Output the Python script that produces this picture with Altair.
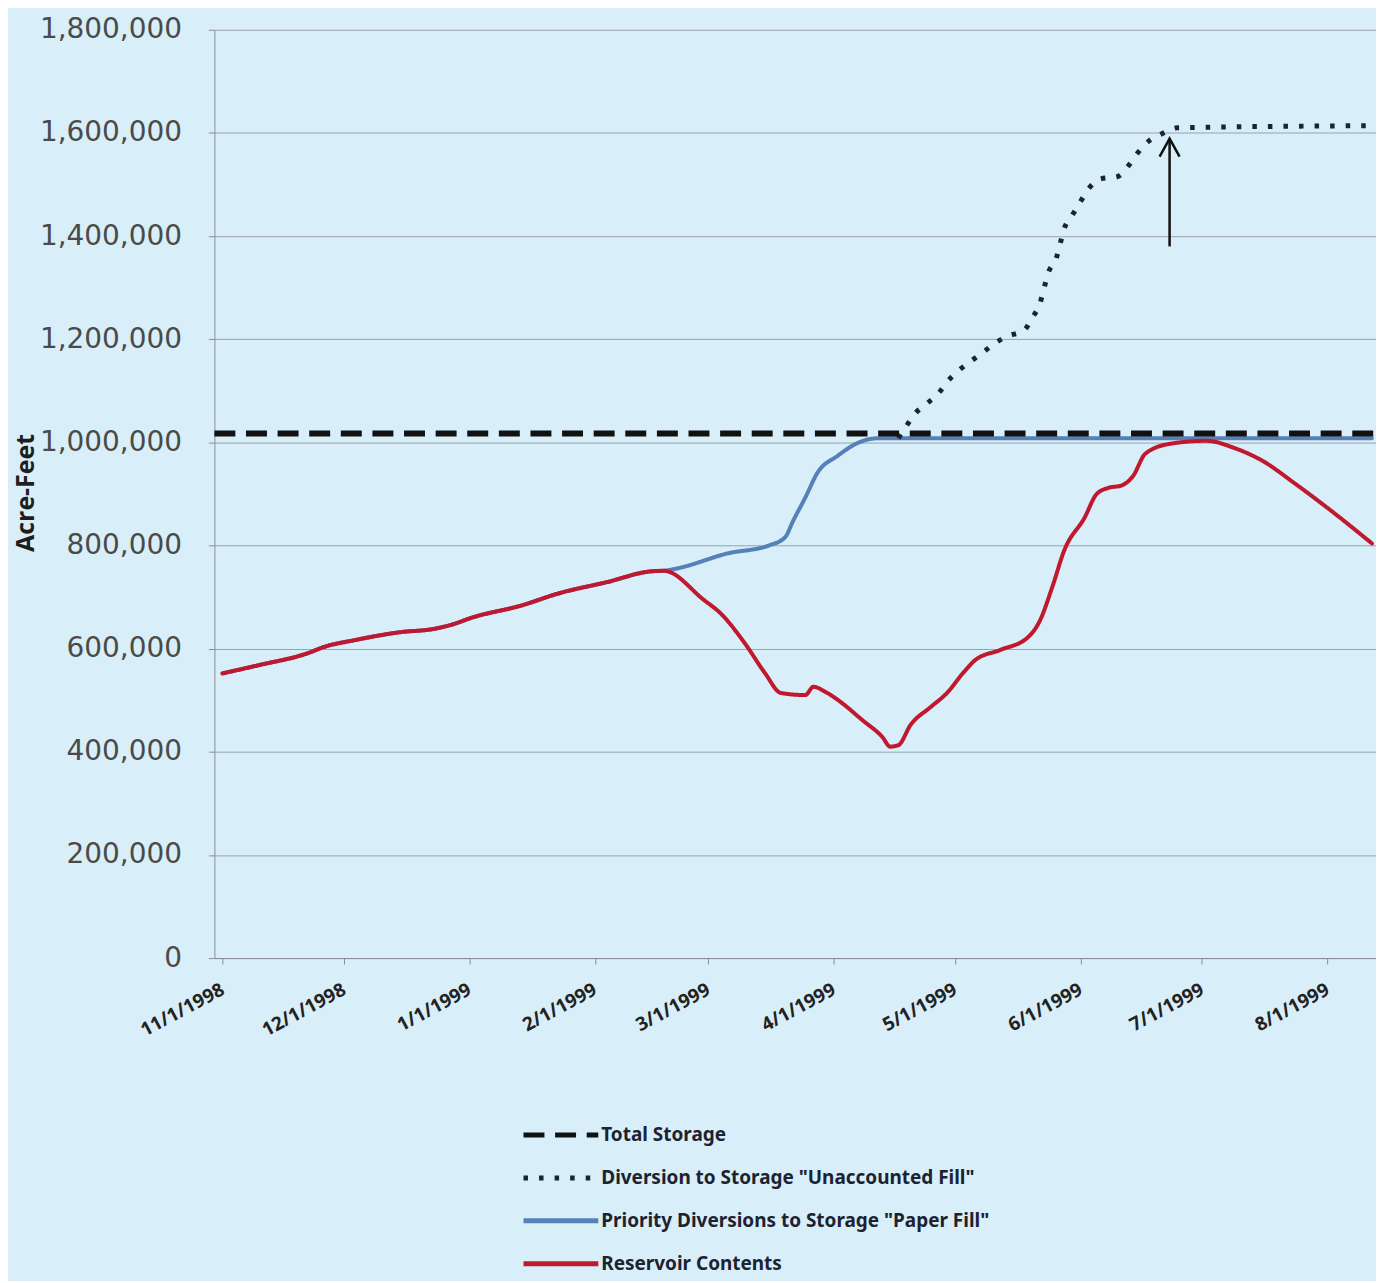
import altair as alt
import pandas as pd

# ---------------- data ----------------
# shared part of "Paper Fill" and "Reservoir Contents" (identical until mid-February)
common_dates = ["11/1/1998", "11/10/1998", "11/22/1998", "11/26/1998", "12/4/1998",
                "12/15/1998", "12/23/1998", "12/27/1998", "1/2/1999", "1/14/1999",
                "1/23/1999", "2/4/1999", "2/15/1999", "2/18/1999"]
common_vals = [552000, 568000, 591000, 603000, 617000,
               632000, 638000, 645000, 661000, 684000,
               707000, 729000, 750000, 751000]

red_dates = ["2/28/1999", "3/4/1999", "3/10/1999", "3/15/1999", "3/19/1999",
             "3/25/1999", "3/27/1999", "3/30/1999", "4/3/1999", "4/8/1999",
             "4/13/1999", "4/15/1999", "4/17/1999", "4/20/1999", "4/25/1999",
             "4/29/1999", "5/3/1999", "5/6/1999", "5/12/1999", "5/19/1999",
             "5/22/1999", "5/25/1999", "5/28/1999", "6/2/1999", "6/5/1999",
             "6/8/1999", "6/11/1999", "6/14/1999", "6/17/1999", "6/23/1999",
             "7/2/1999", "7/9/1999", "7/16/1999", "7/24/1999", "8/1/1999",
             "8/12/1999"]
red_vals = [694000, 669000, 611000, 553000, 514000,
            510000, 526000, 516000, 495000, 462000,
            429000, 410000, 413000, 452000, 487000,
            514000, 553000, 578000, 597000, 622000,
            655000, 719000, 791000, 854000, 900000,
            912000, 916000, 935000, 978000, 997000,
            1003000, 989000, 964000, 920000, 873000,
            804000]

blue_dates = ["2/21/1999", "3/6/1999", "3/16/1999", "3/20/1999", "3/22/1999",
              "3/25/1999", "3/28/1999", "4/2/1999", "4/7/1999", "4/12/1999",
              "8/12/1999"]
blue_vals = [755000, 785000, 800000, 816000, 848000,
             893000, 941000, 974000, 999000, 1008000,
             1008000]

dot_dates = ["4/17/1999", "4/19/1999", "4/21/1999", "4/24/1999", "4/27/1999",
             "4/29/1999", "5/2/1999", "5/5/1999", "5/8/1999", "5/11/1999",
             "5/14/1999", "5/18/1999", "5/20/1999", "5/22/1999", "5/23/1999",
             "5/24/1999", "5/26/1999", "5/27/1999", "5/28/1999", "5/30/1999",
             "6/1/1999", "6/3/1999", "6/6/1999", "6/10/1999", "6/13/1999",
             "6/15/1999", "6/18/1999", "6/21/1999", "6/25/1999", "8/12/1999"]
dot_vals = [1008000, 1032000, 1055000, 1075000, 1096000,
            1117000, 1140000, 1158000, 1175000, 1193000,
            1206000, 1217000, 1241000, 1270000, 1299000,
            1328000, 1357000, 1386000, 1415000, 1441000,
            1467000, 1492000, 1511000, 1515000, 1538000,
            1560000, 1585000, 1598000, 1610000, 1614000]

total_dates = ["10/30/1998", "8/13/1999"]
total_vals = [1017000, 1017000]

arrow_date = ["6/23/1999"]
arrow_from = [1380000]
arrow_to = [1589000]

month_ticks = ["11/1/1998", "12/1/1998", "1/1/1999", "2/1/1999", "3/1/1999",
               "4/1/1999", "5/1/1999", "6/1/1999", "7/1/1999", "8/1/1999"]
x_start = "10/30/1998"
x_end = "8/13/1999"
y_ticks = [0, 200000, 400000, 600000, 800000, 1000000, 1200000, 1400000, 1600000, 1800000]

series_names = ["Total Storage",
                'Diversion to Storage "Unaccounted Fill"',
                'Priority Diversions to Storage "Paper Fill"',
                "Reservoir Contents"]
series_colors = ["#111111", "#1b2338", "#5680b8", "#c0182f"]
series_dash = [[21, 10.7], [4.5, 11.1], [1, 0], [1, 0]]

# ---------------- table ----------------
rows = []
for d, v in zip(total_dates, total_vals):
    rows.append({"date": d, "value": v, "series": series_names[0]})
for d, v in zip(dot_dates, dot_vals):
    rows.append({"date": d, "value": v, "series": series_names[1]})
for d, v in zip(common_dates + blue_dates, common_vals + blue_vals):
    rows.append({"date": d, "value": v, "series": series_names[2]})
for d, v in zip(common_dates + red_dates, common_vals + red_vals):
    rows.append({"date": d, "value": v, "series": series_names[3]})
df = pd.DataFrame(rows)
arrow_df = pd.DataFrame({"date": arrow_date, "y0": arrow_from, "y1": arrow_to})


def dt(s):
    m, d, y = (int(p) for p in s.split("/"))
    return alt.DateTime(year=y, month=m, date=d)


xscale = alt.Scale(domain=[dt(x_start), dt(x_end)])
yscale = alt.Scale(domain=[0, 1800000])

xaxis = alt.Axis(values=[dt(s) for s in month_ticks], format="%-m/%-d/%Y",
                 labelAngle=-28, labelAlign="right", labelBaseline="middle",
                 labelFont="Noto Sans", labelFontSize=19, labelFontWeight="bold",
                 labelColor="#222222", labelPadding=24, labelOverlap=False,
                 labelFlush=False, tickSize=6, tickColor="#8a9096",
                 domainColor="#8a9096", domainWidth=1, grid=False, title=None)
yaxis = alt.Axis(values=y_ticks, format=",d", grid=True, gridColor="#9aa3aa",
                 gridWidth=1, domainColor="#8a9096", domainWidth=1, tickSize=6,
                 tickColor="#8a9096", labelFont="DejaVu Sans", labelFontSize=28,
                 labelColor="#4a4a4a", labelPadding=27,
                 title="Acre-Feet", titleFont="Open Sans", titleFontSize=25,
                 titleFontWeight="bold", titleColor="#1e1e1e", titleX=-189,
                 titleY=464, titleAngle=270, titleAlign="center",
                 titleBaseline="middle")

legend = alt.Legend(title=None, orient="none", legendX=330, legendY=1091,
                    direction="vertical", symbolType="M-2.5,0H2.5", symbolSize=900,
                    symbolStrokeWidth=5, labelFont="Noto Sans", labelFontSize=19,
                    labelFontWeight="bold", labelColor="#1c2230", labelOffset=23,
                    rowPadding=15, padding=0, labelLimit=800)

color = alt.Color("series:N", scale=alt.Scale(domain=series_names, range=series_colors),
                  legend=legend)
dash = alt.StrokeDash("series:N", scale=alt.Scale(domain=series_names, range=series_dash),
                      legend=legend)

base = alt.Chart(df).encode(
    x=alt.X("date:T", scale=xscale, axis=xaxis),
    y=alt.Y("value:Q", scale=yscale, axis=yaxis),
    color=color,
    strokeDash=dash,
)

blue = base.transform_filter(alt.datum.series == series_names[2]).mark_line(
    strokeWidth=4, strokeCap="round", strokeJoin="round", interpolate="monotone")
red = base.transform_filter(alt.datum.series == series_names[3]).mark_line(
    strokeWidth=4, strokeCap="round", strokeJoin="round", interpolate="monotone")
dotted = base.transform_filter(alt.datum.series == series_names[1]).mark_line(
    strokeWidth=5, strokeCap="butt", strokeJoin="round", interpolate="monotone")
dashed = base.transform_filter(alt.datum.series == series_names[0]).mark_line(
    strokeWidth=6, strokeCap="butt")

arrow_base = alt.Chart(arrow_df)
arrow_shaft = arrow_base.mark_rule(color="#111111", strokeWidth=2.5).encode(
    x=alt.X("date:T", scale=xscale, axis=xaxis),
    y=alt.Y("y0:Q", scale=yscale, axis=yaxis),
    y2="y1:Q",
)
arrow_head = arrow_base.mark_point(shape="M-1,1.8L0,0L1,1.8", filled=False, size=400,
                                   stroke="#111111", strokeWidth=2.5, opacity=1).encode(
    x=alt.X("date:T", scale=xscale, axis=xaxis),
    y=alt.Y("y1:Q", scale=yscale, axis=yaxis),
)

chart = alt.layer(blue, red, dotted, dashed, arrow_shaft, arrow_head).properties(
    width=1165, height=931,
    autosize=alt.AutoSizeParams(type="none"),
    padding={"left": 207, "top": 20, "right": 0, "bottom": 322},
    background="#d8eef8",
).configure_view(strokeWidth=0)

chart.save("out.html", embed_options={"renderer": "svg", "actions": False})
